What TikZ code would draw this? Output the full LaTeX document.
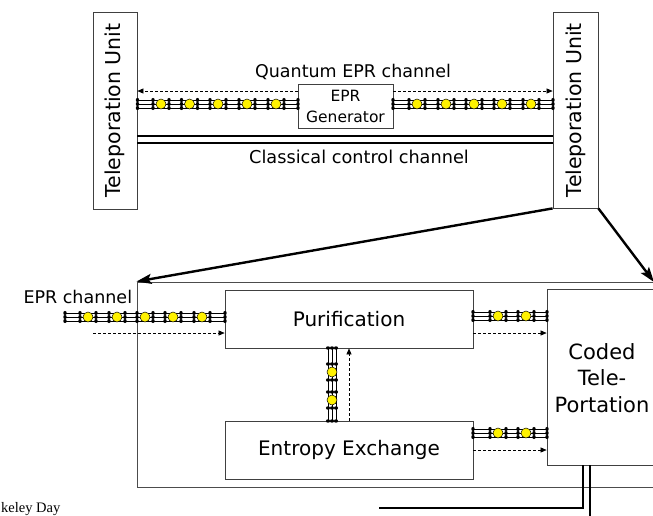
\documentclass[tikz,border=0pt]{standalone}
\usepackage{fontspec}
\setmainfont{DejaVu Sans}
\newfontfamily\timesf{Liberation Serif}
\usetikzlibrary{arrows.meta,calc}
\tikzset{
  rail/.style={line width=0.7pt,black},
  bead/.style={fill=yellow,draw=black,line width=0.5pt},
  dasharr/.style={line width=0.6pt,dash pattern=on 3pt off 2pt,-{Triangle[length=6pt,width=5pt]}},
  bigarr/.style={line width=2.4pt,-{Stealth[length=15pt,width=10pt,inset=3pt]}},
  thickln/.style={line width=2pt},
  hcol/.pic={\foreach \r in {-4,0,4} \fill (0,\r) ellipse (1.7 and 2.1);},
  vcol/.pic={\foreach \r in {-4,0,4} \fill (\r,0) ellipse (2.1 and 1.7);},
  fs/.style={font=\fontsize{#1}{#1}\selectfont},
  boxst/.style={draw=black!75,line width=0.8pt,inner sep=0pt},
}
\newcommand\hchainx[4]{%
  \foreach \r in {-4,0,4} \draw[rail] (#1,#3+\r) -- (#2,#3+\r);
  \pic at (#1,#3) {hcol}; \pic at (#2,#3) {hcol};
  \foreach \b in {#4} {\pic at (\b-8,#3) {hcol}; \pic at (\b+8,#3) {hcol};}
  \foreach \b in {#4} {\draw[bead] (\b,#3) circle (5);}
}
\newcommand\vchainx[4]{%
  \foreach \r in {-4,0,4} \draw[rail] (#3+\r,#1) -- (#3+\r,#2);
  \pic at (#3,#1) {vcol}; \pic at (#3,#2) {vcol};
  \foreach \b in {#4} {\pic at (#3,\b-8) {vcol}; \pic at (#3,\b+8) {vcol};}
  \foreach \b in {#4} {\draw[bead] (#3,\b) circle (5);}
}
\begin{document}
\begin{tikzpicture}[x=1pt,y=-1pt]
\useasboundingbox (0,0) rectangle (653,515);
\clip (0,0) rectangle (653,515);
\fill[white] (0,0) rectangle (653,515);
% top part
\node[boxst,minimum width=44pt,minimum height=197pt] (tuL) at (115,110.5) {};
\node[rotate=90,fs=20.5] at (tuL.center) {Teleporation Unit};
\node[boxst,minimum width=45pt,minimum height=196pt] (tuR) at (575.5,110) {};
\node[rotate=90,fs=20.5] at (tuR.center) {Teleporation Unit};
\node[boxst,minimum width=95pt,minimum height=44pt,fill=white] (gen) at (345.5,106) {};
\node[font=\fontsize{15.5}{21}\selectfont,align=center] at (gen.center) {EPR\\Generator};
\node[fs=17.5] (qlab) at (353,72) {Quantum EPR channel};
\node[fs=17.7] (clab) at (359,157) {Classical control channel};
\hchainx{137.5}{298}{104}{161,189.5,218,247,276}
\hchainx{393}{553}{104}{417,446,474,502,531}
\draw[dasharr] (gen.west |- 0,91) -- (tuL.east |- 0,91);
\draw[dasharr] (gen.east |- 0,91) -- (tuR.west |- 0,91);
\draw[line width=1.8pt] (tuL.east |- 0,136) -- (tuR.west |- 0,136);
\draw[line width=1.8pt] (tuL.east |- 0,143) -- (tuR.west |- 0,143);
% bottom part
\node[draw=black!70,line width=1pt,minimum width=519pt,minimum height=205pt,inner sep=0pt] (outer) at (396.5,384.5) {};
\node[boxst,minimum width=248pt,minimum height=58pt,fs=20] (pur) at (349,319) {Purification};
\node[boxst,minimum width=248pt,minimum height=58pt,fs=20] (ent) at (349,450) {Entropy Exchange};
\node[boxst,minimum width=113pt,minimum height=176pt] (cod) at (603.5,377) {};
\node[align=center,font=\fontsize{21}{26.5}\selectfont] at (602,378) {Coded\\Tele-\\Portation};
\node[fs=17.5,anchor=west] (epr) at (20,297) {EPR channel};
\hchainx{65}{225}{317}{88,117,145,173,202}
\hchainx{473}{547}{316}{498,526}
\hchainx{473}{547}{433}{498,526}
\vchainx{348}{421}{332}{372,400}
\coordinate (din) at (93,333);
\draw[dasharr] (din) -- (pur.west |- din);
\draw[dasharr] (pur.east |- 0,333) -- (cod.west |- 0,333);
\draw[dasharr] (ent.east |- 0,450) -- (cod.west |- 0,450);
\draw[dasharr] (349,0 |- ent.north) -- (349,0 |- pur.south);
% big arrows
\draw[bigarr] (tuR.south west) -- (outer.north west);
\draw[bigarr] (tuR.south east) -- (654,282);
% bottom lines
\draw[thickln] (379,508) -- (583,508) -- (583,0 |- cod.south);
\draw[thickln] (590,0 |- cod.south) -- (590,520);
\node[font=\timesf\fontsize{14.5}{16}\selectfont,anchor=west,inner sep=0pt] (day) at (1,509) {keley Day};
\end{tikzpicture}
\end{document}
